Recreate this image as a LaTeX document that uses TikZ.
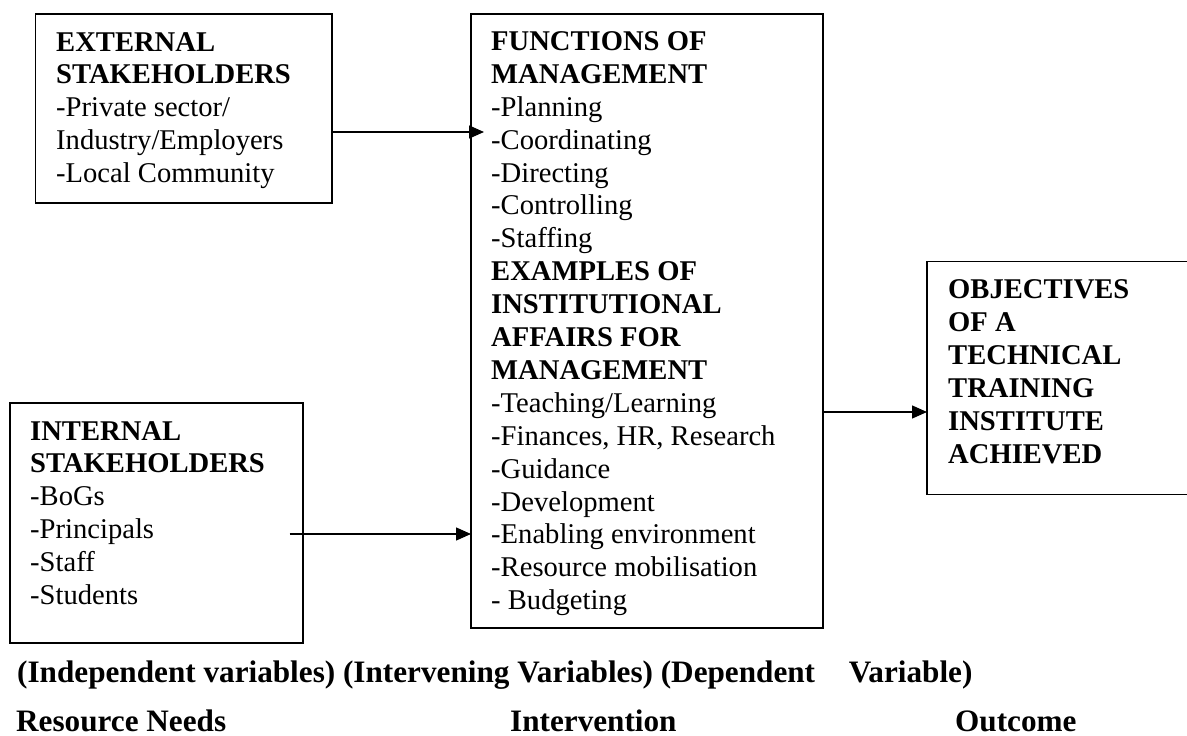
\documentclass[tikz,border=0pt]{standalone}
\usepackage{fontspec}
\setmainfont{Liberation Serif}
\usetikzlibrary{arrows.meta}
\begin{document}
\begin{tikzpicture}[x=1pt,y=-1pt,
  framebox/.style={draw, line width=1.3pt, inner sep=0pt, outer sep=0pt, anchor=north west},
  boxtext/.style={inner sep=0pt, anchor=base west, font=\fontsize{28.6}{32.9}\selectfont},
  captext/.style={inner sep=0pt, anchor=base west, font=\fontsize{31.2}{36}\selectfont\bfseries},
  arr/.style={line width=1.4pt, -{Triangle[length=15pt,width=13pt]}}
]
\useasboundingbox (0,0) rectangle (1187,736);
\clip (0,0) rectangle (1187,736);

% boxes
\node[framebox, minimum width=296.5pt, minimum height=189pt] (ext) at (35.5,14) {};
\node[framebox, minimum width=352pt, minimum height=614pt] (mid) at (471,14) {};
\node[framebox, minimum width=293pt, minimum height=240pt] (int) at (10,403) {};
\node[framebox, minimum width=268pt, minimum height=233pt] (obj) at (927,261.5) {};

% box texts
\node[boxtext] (extT) at (56,51) {\begin{tabular}[t]{@{}l@{}}
\textbf{EXTERNAL}\\
\textbf{STAKEHOLDERS}\\
-Private sector/\\
Industry/Employers\\
-Local Community
\end{tabular}};

\node[boxtext] (midT) at (491,50.5) {\begin{tabular}[t]{@{}l@{}}
\textbf{FUNCTIONS OF}\\
\textbf{MANAGEMENT}\\
-Planning\\
-Coordinating\\
-Directing\\
-Controlling\\
-Staffing\\
\textbf{EXAMPLES OF}\\
\textbf{INSTITUTIONAL}\\
\textbf{AFFAIRS FOR}\\
\textbf{MANAGEMENT}\\
-Teaching/Learning\\
-Finances, HR, Research\\
-Guidance\\
-Development\\
-Enabling environment\\
-Resource mobilisation\\
- Budgeting
\end{tabular}};

\node[boxtext] (intT) at (30,440) {\begin{tabular}[t]{@{}l@{}}
\textbf{INTERNAL}\\
\textbf{STAKEHOLDERS}\\
-BoGs\\
-Principals\\
-Staff\\
-Students
\end{tabular}};

\node[boxtext] (objT) at (948,298.5) {\begin{tabular}[t]{@{}l@{}}
\textbf{OBJECTIVES}\\
\textbf{OF A}\\
\textbf{TECHNICAL}\\
\textbf{TRAINING}\\
\textbf{INSTITUTE}\\
\textbf{ACHIEVED}
\end{tabular}};

% connectors
\coordinate (p1) at (0,132);
\coordinate (p2) at (289.6,534);
\coordinate (p3) at (0,412);
\draw[arr, shorten >=-13pt] (ext.east |- p1) -- (mid.west |- p1);
\draw[arr] (p2) -- (mid.west |- p2);
\draw[arr] (mid.east |- p3) -- (obj.west |- p3);

% captions
\node[captext] (cap1) at (17,682) {(Independent variables) (Intervening Variables) (Dependent};
\node[captext] (cap2) at (848.6,682) {Variable)};
\node[captext] (res) at (16,731) {Resource Needs};
\node[captext] (intv) at (510,731) {Intervention};
\node[captext] (out) at (955,731) {Outcome};
\end{tikzpicture}
\end{document}
